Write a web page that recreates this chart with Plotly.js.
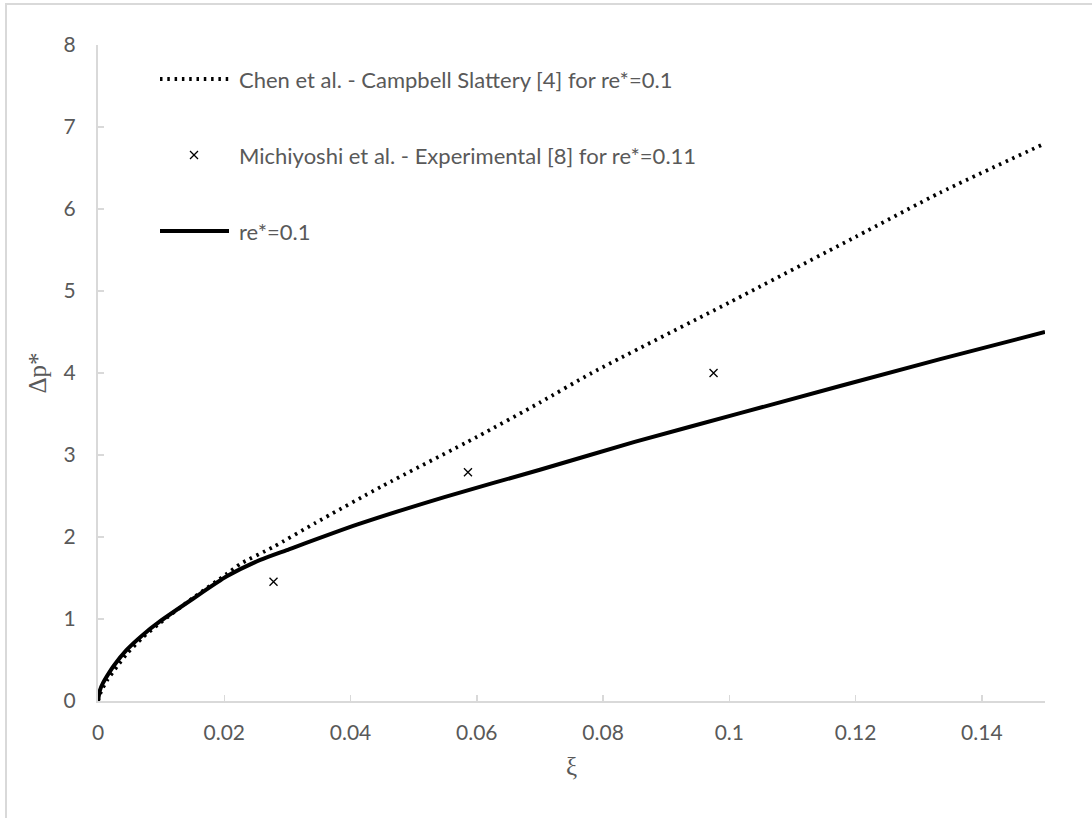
<!DOCTYPE html>
<html>
<head>
<meta charset="utf-8">
<script src="https://cdn.plot.ly/plotly-3.0.1.min.js"></script>
<style>html,body{margin:0;padding:0;background:#fff;}#chart{width:1092px;height:818px;}</style>
</head>
<body>
<div id="chart"></div>
<script>
// ---- data ----
const chenXi = [0, 0.0005, 0.0015, 0.003, 0.0045, 0.007, 0.0098, 0.0151, 0.0204, 0.0225, 0.0278, 0.0344, 0.045, 0.06, 0.070, 0.0782, 0.1, 0.12, 0.1334, 0.15];
const chenDp = [0, 0.12, 0.26, 0.42, 0.57, 0.77, 0.95, 1.26, 1.55, 1.67, 1.88, 2.17, 2.62, 3.22, 3.64, 4.0, 4.86, 5.66, 6.2, 6.8];

const expXi = [0.0278, 0.0586, 0.0975];
const expDp = [1.455, 2.79, 4.0];

const modelXi = [0, 0.0003, 0.0008, 0.0014, 0.0025, 0.0045, 0.007, 0.0098, 0.0151, 0.0204, 0.0257, 0.0299, 0.041, 0.055, 0.070, 0.085, 0.1017, 0.1334, 0.15];
const modelDp = [0, 0.13, 0.22, 0.30, 0.43, 0.62, 0.80, 0.97, 1.25, 1.52, 1.72, 1.84, 2.15, 2.49, 2.82, 3.16, 3.51, 4.17, 4.50];

const legendNames = [
  "Chen et al. - Campbell Slattery [4] for re*=0.1",
  "Michiyoshi et al. - Experimental [8] for re*=0.11",
  "re*=0.1"
];
const xTitle = "ξ";
const yTitle = "Δp*";

// ---- layout geometry (pixels) ----
const W = 1092, H = 818;
const M = {l: 98, r: 47, t: 45, b: 117};
const PW = W - M.l - M.r, PH = H - M.t - M.b;
const px = x => (x - M.l) / PW;
const py = y => (H - M.b - y) / PH;

const dotDash = '2.5px,4.8px';

const traces = [
  {x: chenXi, y: chenDp, type: 'scatter', mode: 'lines', name: legendNames[0],
   line: {color: '#000', width: 3.8, dash: dotDash, shape: 'spline', smoothing: 0.6}, showlegend: false},
  {x: expXi, y: expDp, type: 'scatter', mode: 'markers', name: legendNames[1],
   marker: {symbol: 'x-thin-open', size: 8, color: '#000', line: {color: '#000', width: 1.3}}, showlegend: false},
  {x: modelXi, y: modelDp, type: 'scatter', mode: 'lines', name: legendNames[2],
   line: {color: '#000', width: 4, shape: 'spline', smoothing: 0.6}, showlegend: false}
];

const grey = '#d9d9d9';
const txt = '#595959';
const rows = [79, 155, 231];
const lx0 = 160, lx1 = 229, lmx = 194, ltx = 237;

const shapes = [
  // outer chart border (left & top visible)
  {type: 'line', xref: 'paper', yref: 'paper', x0: px(6), x1: px(6), y0: py(4), y1: py(830), line: {color: grey, width: 2}},
  {type: 'line', xref: 'paper', yref: 'paper', x0: px(5), x1: px(1100), y0: py(4), y1: py(4), line: {color: grey, width: 2}},
  // legend samples
  {type: 'line', xref: 'paper', yref: 'paper', x0: px(lx0), x1: px(lx1), y0: py(rows[0]), y1: py(rows[0]), line: {color: '#000', width: 3.8, dash: dotDash}},
  {type: 'line', xref: 'paper', yref: 'paper', x0: px(lmx - 4), x1: px(lmx + 4), y0: py(rows[1] - 4), y1: py(rows[1] + 4), line: {color: '#000', width: 1.3}},
  {type: 'line', xref: 'paper', yref: 'paper', x0: px(lmx - 4), x1: px(lmx + 4), y0: py(rows[1] + 4), y1: py(rows[1] - 4), line: {color: '#000', width: 1.3}},
  {type: 'line', xref: 'paper', yref: 'paper', x0: px(lx0), x1: px(lx1), y0: py(rows[2]), y1: py(rows[2]), line: {color: '#000', width: 4}}
];

const annotations = legendNames.map((n, i) => ({
  xref: 'paper', yref: 'paper', x: px(ltx), y: py(rows[i]), xanchor: 'left', yanchor: 'middle',
  text: n, showarrow: false, font: {family: 'Lato, sans-serif', size: 22, color: txt}
}));

const layout = {
  width: W, height: H,
  margin: M,
  paper_bgcolor: '#fff', plot_bgcolor: '#fff',
  showlegend: false,
  font: {family: 'Lato, sans-serif', size: 20, color: txt},
  xaxis: {
    range: [0, 0.15], dtick: 0.02, tick0: 0,
    showgrid: false, zeroline: false, showline: true, linecolor: grey, linewidth: 2,
    ticks: 'inside', ticklen: 6, tickwidth: 1.5, tickcolor: grey,
    ticklabelstandoff: 12,
    tickfont: {family: 'Lato, sans-serif', size: 21, color: txt},
    title: {text: xTitle, standoff: 14, font: {family: 'Liberation Serif, serif', size: 25, color: txt}}
  },
  yaxis: {
    range: [0, 8], dtick: 1, tick0: 0,
    showgrid: false, zeroline: false, showline: true, linecolor: grey, linewidth: 2,
    ticks: 'inside', ticklen: 6, tickwidth: 1.5, tickcolor: grey,
    ticklabelstandoff: 16,
    tickfont: {family: 'Lato, sans-serif', size: 21, color: txt},
    title: {text: yTitle, standoff: 10, font: {family: 'Liberation Serif, serif', size: 25, color: txt}}
  },
  shapes: shapes,
  annotations: annotations
};

Plotly.newPlot('chart', traces, layout, {displayModeBar: false, staticPlot: true});
</script>
</body>
</html>
